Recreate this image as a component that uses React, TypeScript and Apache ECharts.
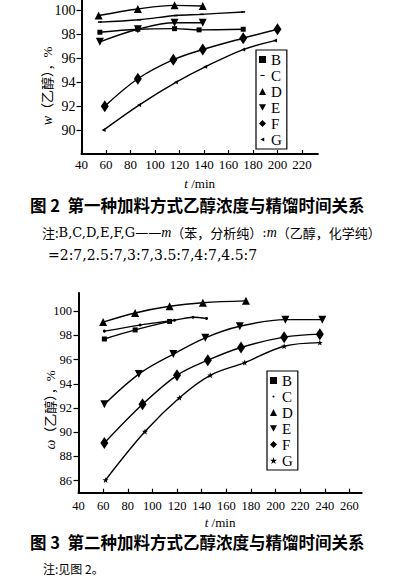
import React, { useEffect, useRef } from "react";
import * as echarts from "echarts";

// ---- Figure 2 (first feeding mode) ----
const fig2XTicks = [40, 60, 80, 100, 120, 140, 160, 180, 200, 220];
const fig2YTicks = [90, 92, 94, 96, 98, 100];
const fig2B: [number, number][] = [[55, 98.2], [86, 98.45], [116, 98.5], [136, 98.4], [172, 98.45]];
const fig2C: [number, number][] = [[55, 99.05], [87, 99.25], [117, 99.6], [138, 99.7], [172, 99.9]];
const fig2D: [number, number][] = [[54, 99.6], [86, 100.15], [116, 100.45], [139, 100.4]];
const fig2E: [number, number][] = [[55, 97.4], [86, 98.45], [116, 99.0], [139, 99.0]];
const fig2F: [number, number][] = [[59, 92.0], [86, 94.3], [115, 95.9], [139, 96.75], [172, 97.7], [200, 98.45]];
const fig2G: [number, number][] = [[58, 90.0], [87, 92.1], [117, 94.0], [141, 95.3], [172, 96.75], [198, 97.5]];

// ---- Figure 3 (second feeding mode) ----
const fig3XTicks = [40, 60, 80, 100, 120, 140, 160, 180, 200, 220, 240, 260];
const fig3YTicks = [86, 88, 90, 92, 94, 96, 98, 100];
const fig3B: [number, number][] = [[61, 97.7], [86, 98.45], [114, 99.15]];
const fig3C: [number, number][] = [[61, 98.35], [90, 98.85], [118, 99.25], [133, 99.5], [144, 99.4]];
const fig3D: [number, number][] = [[60, 99.1], [86, 99.85], [114, 100.4], [141, 100.7], [176, 100.85]];
const fig3E: [number, number][] = [[61, 92.3], [89, 94.8], [117, 96.45], [143, 97.8], [171, 98.75], [208, 99.3], [238, 99.3]];
const fig3F: [number, number][] = [[61, 89.1], [92, 92.3], [120, 94.7], [145, 95.95], [172, 97.0], [207, 97.85], [236, 98.1]];
const fig3G: [number, number][] = [[62, 86.05], [94, 90.05], [122, 92.85], [147, 94.7], [175, 95.75], [207, 97.1], [236, 97.4]];

const seriesNames = ["B", "C", "D", "E", "F", "G"];

const SERIF = "Liberation Serif, Noto Sans CJK SC, serif";
const DSERIF = "DejaVu Serif, serif";
const CJK = "Noto Sans CJK SC, sans-serif";

const STAR = "path://M5,0L6.2,3.8L10,3.8L7,6.2L8.1,10L5,7.6L1.9,10L3,6.2L0,3.8L3.8,3.8Z";
const DASH_ICON = "path://M0,0M10,10M2,4.3L8,4.3L8,5.7L2,5.7Z";
const LEFT_TRI_ICON = "path://M0,0M10,10M2,5L7.5,2.2L7.5,7.8Z";
const DOWN_TRI_ICON = "path://M0,0L10,0L5,9Z";
const SMALL_DOT_ICON = "path://M0,0M10,10M5,3.5A1.5,1.5,0,1,1,4.99,3.5Z";

function mk(
  name: string,
  data: [number, number][],
  idx: number,
  symbol: string,
  size: number | number[],
  rotate = 0
) {
  return {
    type: "line",
    name,
    data,
    xAxisIndex: idx,
    yAxisIndex: idx,
    smooth: 0.35,
    symbol,
    symbolSize: size,
    symbolRotate: rotate,
    showSymbol: true,
    lineStyle: { color: "#000", width: 1.4 },
    itemStyle: { color: "#000" },
    z: 3,
  };
}

function xAxis(idx: number, min: number, max: number, ticks: number[], labelMargin: number, nameGap: number, fontSize: number) {
  return {
    type: "value",
    gridIndex: idx,
    min,
    max,
    name: "{i|t} /min",
    nameLocation: "middle",
    nameGap,
    nameTextStyle: {
      fontFamily: SERIF,
      fontSize: 13,
      color: "#000",
      rich: { i: { fontFamily: SERIF, fontStyle: "italic", fontSize: 13, color: "#000" } },
    },
    axisLine: { show: true, lineStyle: { color: "#000", width: 2 } },
    axisTick: { show: true, inside: true, length: 4, customValues: ticks, lineStyle: { color: "#000", width: 1.2 } },
    axisLabel: { customValues: ticks, fontFamily: SERIF, fontSize, color: "#000", margin: labelMargin },
    splitLine: { show: false },
  };
}

function yAxis(idx: number, min: number, max: number, ticks: number[], fontSize: number, margin: number) {
  return {
    type: "value",
    gridIndex: idx,
    min,
    max,
    axisLine: { show: true, lineStyle: { color: "#000", width: 2 } },
    axisTick: { show: true, inside: false, length: 5, customValues: ticks, lineStyle: { color: "#000", width: 1.2 } },
    axisLabel: { customValues: ticks, fontFamily: SERIF, fontSize, color: "#000", margin },
    splitLine: { show: false },
  };
}

function legend(left: number, top: number, icons: string[]) {
  return {
    orient: "vertical",
    left,
    top,
    itemWidth: 7,
    itemHeight: 7,
    itemGap: 1,
    padding: [2, 5, 2, 3],
    borderColor: "#000",
    borderWidth: 1.2,
    borderRadius: 0,
    selectedMode: false,
    textStyle: { fontFamily: SERIF, fontSize: 15, color: "#000", lineHeight: 14 },
    data: seriesNames.map((n, i) => ({ name: n, icon: icons[i] })),
  };
}

export default function App() {
  const ref = useRef<HTMLDivElement>(null);
  useEffect(() => {
    if (!ref.current) return;
    const chart = echarts.init(ref.current, null, { renderer: "svg" });
    const option: any = {
      animation: false,
      backgroundColor: "#fff",
      grid: [
        { left: 81.5, top: 0, width: 236.4, height: 154, outerBoundsMode: "none", containLabel: false },
        { left: 78.5, top: 293, width: 283.2, height: 199.7, outerBoundsMode: "none", containLabel: false },
      ],
      xAxis: [
        xAxis(0, 40, 233, fig2XTicks, 4, 22.5, 13),
        xAxis(1, 40, 270, fig3XTicks, 7, 23, 12.5),
      ],
      yAxis: [yAxis(0, 88, 100.9, fig2YTicks, 14, 6), yAxis(1, 85, 101.5, fig3YTicks, 12.5, 6.5)],
      legend: [
        legend(256, 50, ["rect", DASH_ICON, "triangle", DOWN_TRI_ICON, "diamond", LEFT_TRI_ICON]),
        legend(267, 371, ["rect", SMALL_DOT_ICON, "triangle", DOWN_TRI_ICON, "diamond", STAR]),
      ],
      series: [
        mk("B", fig2B, 0, "rect", 5),
        mk("C", fig2C, 0, "rect", [4, 1.6]),
        mk("D", fig2D, 0, "triangle", 8),
        mk("E", fig2E, 0, "triangle", 8, 180),
        mk("F", fig2F, 0, "diamond", [8, 12]),
        mk("G", fig2G, 0, "triangle", [4, 4], 90),
        mk("B", fig3B, 1, "rect", 5),
        mk("C", fig3C, 1, "circle", 3),
        mk("D", fig3D, 1, "triangle", 8),
        mk("E", fig3E, 1, "triangle", 8, 180),
        mk("F", fig3F, 1, "diamond", [8, 12]),
        mk("G", fig3G, 1, STAR, 6),
      ],
      graphic: [
        {
          type: "text",
          x: 47,
          y: 86,
          rotation: Math.PI / 2,
          style: {
            text: "{i|w}（乙醇），%",
            font: `13px ${SERIF}`,
            fill: "#000",
            align: "center",
            verticalAlign: "middle",
            rich: { i: { fontFamily: SERIF, fontStyle: "italic", fontSize: 14, fill: "#000" } },
          },
        },
        {
          type: "text",
          x: 50,
          y: 410,
          rotation: Math.PI / 2,
          style: {
            text: "{i|ω}（乙醇），%",
            font: `13px ${SERIF}`,
            fill: "#000",
            align: "center",
            verticalAlign: "middle",
            rich: { i: { fontFamily: SERIF, fontStyle: "italic", fontSize: 14, fill: "#000" } },
          },
        },
        {
          type: "text",
          x: 30,
          y: 205,
          style: {
            text: "图 2  第一种加料方式乙醇浓度与精馏时间关系",
            font: `bold 16.5px ${CJK}`,
            fill: "#000",
            align: "left",
            verticalAlign: "middle",
          },
        },
        {
          type: "text",
          x: 42,
          y: 232,
          style: {
            text: "{c|注:}{l|B,C,D,E,F,G}{l|——}{i|m}{c|（苯，分析纯）}{l|:}{i|m}{c|（乙醇，化学纯）}",
            fill: "#000",
            align: "left",
            verticalAlign: "middle",
            rich: {
              c: { fontFamily: CJK, fontSize: 13, fill: "#000" },
              l: { fontFamily: DSERIF, fontSize: 13, fill: "#000" },
              i: { fontFamily: SERIF, fontStyle: "italic", fontSize: 14, fill: "#000" },
            },
          },
        },
        {
          type: "text",
          x: 48,
          y: 255,
          style: {
            text: "=2:7,2.5:7,3:7,3.5:7,4:7,4.5:7",
            font: `14px ${DSERIF}`,
            fill: "#000",
            align: "left",
            verticalAlign: "middle",
          },
        },
        {
          type: "text",
          x: 30,
          y: 542,
          style: {
            text: "图 3  第二种加料方式乙醇浓度与精馏时间关系",
            font: `bold 16.5px ${CJK}`,
            fill: "#000",
            align: "left",
            verticalAlign: "middle",
          },
        },
        {
          type: "text",
          x: 43,
          y: 568,
          style: {
            text: "注:见图 2。",
            font: `12px ${CJK}`,
            fill: "#000",
            align: "left",
            verticalAlign: "middle",
          },
        },
      ],
    };
    chart.setOption(option);
    return () => chart.dispose();
  }, []);
  return (
    <div
      ref={ref}
      style={{ position: "fixed", left: 0, top: 0, width: 394, height: 584, background: "#fff" }}
    />
  );
}
